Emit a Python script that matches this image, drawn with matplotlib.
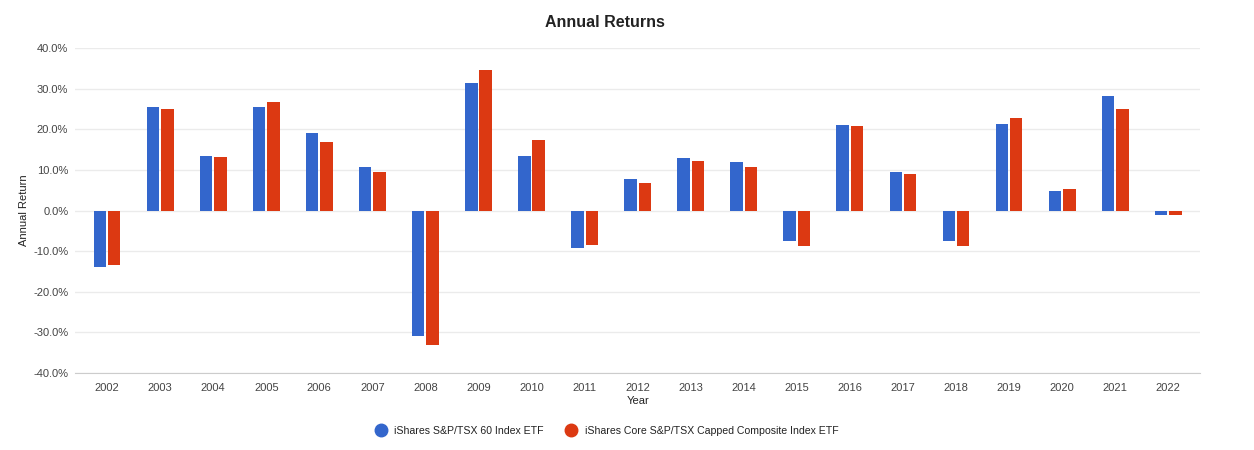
import numpy as np
import matplotlib.pyplot as plt
from matplotlib.lines import Line2D

years = [str(y) for y in range(2002, 2023)]
xiu = [-14.0, 25.4, 13.5, 25.4, 19.0, 10.8, -31.0, 31.3, 13.5, -9.1, 7.9,
       13.0, 12.0, -7.6, 21.2, 9.4, -7.6, 21.4, 4.9, 28.1, -1.2]
xic = [-13.5, 24.9, 13.3, 26.8, 17.0, 9.4, -33.2, 34.5, 17.5, -8.4, 6.9,
       12.3, 10.8, -8.6, 20.9, 8.9, -8.6, 22.7, 5.4, 24.9, -1.0]
names = ["iShares S&P/TSX 60 Index ETF",
         "iShares Core S&P/TSX Capped Composite Index ETF"]
colors = ["#3366CC", "#DC3912"]

plt.rcParams['font.family'] = ['Liberation Sans', 'DejaVu Sans']

fig = plt.figure(figsize=(12.54, 4.5), dpi=100)
ax = fig.add_axes([0.06, 0.171, 0.897, 0.722])

x = np.arange(len(years))
w = 0.235
ax.bar(x - 0.135, xiu, w, color=colors[0], zorder=3)
ax.bar(x + 0.135, xic, w, color=colors[1], zorder=3)

ax.set_xlim(-0.6, 20.6)
ax.set_ylim(-40, 40)
ax.set_yticks(np.arange(-40, 41, 10))
ax.set_yticklabels([f"{v:.1f}%" for v in np.arange(-40, 41, 10)])
ax.set_xticks(x)
ax.set_xticklabels(years)
ax.tick_params(length=0, labelsize=8, colors="#444444", pad=7)
ax.tick_params(axis='y', pad=5)
ax.grid(axis='y', color="#ebebeb", linewidth=1, zorder=0)
for s in ['top', 'right', 'left']:
    ax.spines[s].set_visible(False)
ax.spines['bottom'].set_color("#cccccc")

ax.set_xlabel("Year", fontsize=8, color="#222222", labelpad=2)
ax.set_ylabel("Annual Return", fontsize=8, color="#222222", labelpad=3)
fig.text(0.4825, 0.951, "Annual Returns", fontsize=11.5, fontweight='bold',
         color="#222222", ha='center', va='center')

handles = [Line2D([], [], marker='o', linestyle='', markersize=9, color=c) for c in colors]
fig.legend(handles, names, loc='center', bbox_to_anchor=(0.482, 0.042), ncol=2,
           frameon=False, fontsize=7.6, handletextpad=0.25, columnspacing=1.6,
           labelcolor="#222222")

fig.savefig("out.png", dpi=100)
